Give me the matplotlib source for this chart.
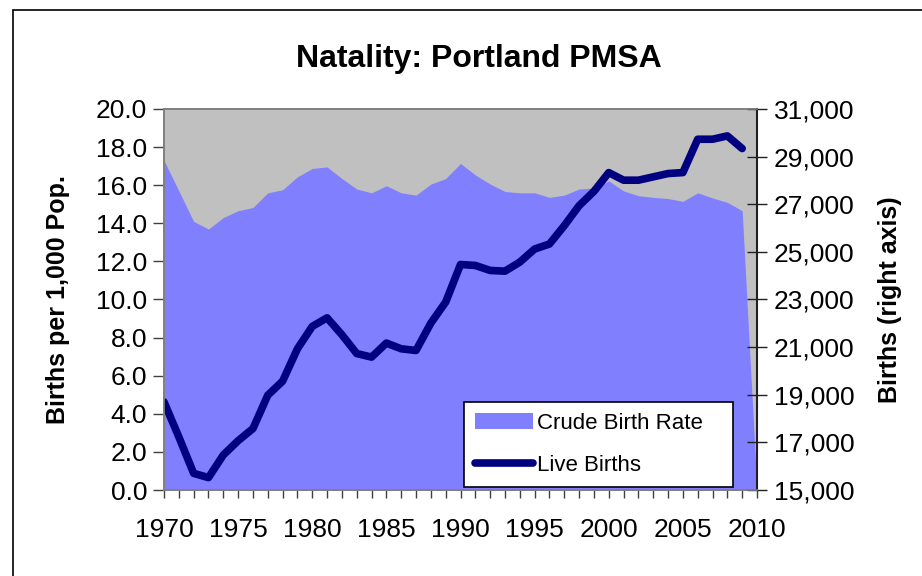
import matplotlib
matplotlib.use("Agg")
import matplotlib.pyplot as plt
from matplotlib.patches import Rectangle
from matplotlib.ticker import FuncFormatter

plt.rcParams['font.family'] = ['Liberation Sans', 'DejaVu Sans']

years = list(range(1970, 2011))
crude_birth_rate = [17.3, 15.7, 14.1, 13.7, 14.3, 14.66, 14.83, 15.6, 15.76, 16.44,
                    16.88, 16.96, 16.35, 15.8, 15.6, 15.97, 15.6, 15.48, 16.06, 16.35,
                    17.14, 16.54, 16.06, 15.67, 15.6, 15.6, 15.36, 15.48, 15.8, 15.85,
                    16.23, 15.7, 15.45, 15.36, 15.3, 15.15, 15.6, 15.33, 15.1, 14.66,
                    0.0]
birth_years = list(range(1970, 2010))
live_births = [18700, 17230, 15700, 15520, 16470, 17070, 17580, 18980, 19570, 20930,
               21870, 22230, 21520, 20730, 20580, 21170, 20930, 20860, 22010, 22890,
               24470, 24430, 24220, 24190, 24570, 25120, 25330, 26100, 26940, 27540,
               28330, 28010, 28010, 28150, 28290, 28330, 29730, 29730, 29870, 29340]

title = "Natality: Portland PMSA"
left_label = "Births per 1,000 Pop."
right_label = "Births (right axis)"
left_ticks = [0, 2, 4, 6, 8, 10, 12, 14, 16, 18, 20]
right_ticks = [15000, 17000, 19000, 21000, 23000, 25000, 27000, 29000, 31000]
x_label_years = [1970, 1975, 1980, 1985, 1990, 1995, 2000, 2005, 2010]

W, H = 922, 576
fig = plt.figure(figsize=(W / 100, H / 100), dpi=100)
fig.patch.set_facecolor('white')

# outer chart border
fig.patches.append(Rectangle((13 / W, -0.05), 1.2, 1 - 10 / H + 0.05,
                             transform=fig.transFigure, fill=False,
                             edgecolor='black', linewidth=1.2))

ax = fig.add_axes([164 / W, 1 - 490 / H, (757 - 164) / W, (490 - 109) / H])
ax.set_facecolor('#C0C0C0')
ax.fill_between(years, crude_birth_rate, 0, color='#8080FF', linewidth=0,
                label='Crude Birth Rate')
ax.set_xlim(1970, 2010)
ax.set_ylim(0, 20)
ax.set_yticks(left_ticks)
ax.set_yticklabels([f"{v:.1f}" for v in left_ticks])
ax.set_xticks(years)
ax.set_xticklabels([str(y) if y in x_label_years else '' for y in years])
ax.tick_params(axis='y', direction='out', length=8, width=1, labelsize=19, pad=4,
               color='#404040')
ax.tick_params(axis='x', direction='out', length=6, width=1, labelsize=19, pad=14,
               color='#404040')
for s in ax.spines.values():
    s.set_color('#808080')
    s.set_linewidth(1.2)
ax.set_ylabel(left_label, fontsize=18, fontweight='bold', labelpad=19)

ax2 = ax.twinx()
ax2.patch.set_visible(False)
ax2.plot(birth_years, live_births, color='#000080', linewidth=5.5,
         solid_capstyle='round', solid_joinstyle='round', label='Live Births')
ax2.set_ylim(15000, 31000)
ax2.set_yticks(right_ticks)
ax2.yaxis.set_major_formatter(FuncFormatter(lambda v, p: f"{int(v):,}"))
ax2.tick_params(axis='y', direction='inout', length=14, width=1, labelsize=19, pad=5,
                color='#202020')
for name, s in ax2.spines.items():
    s.set_color('#808080')
    s.set_linewidth(1.2)
ax2.spines['right'].set_color('#202020')
ax2.spines['right'].set_linewidth(1.5)
ax2.set_ylabel(right_label, fontsize=18, fontweight='bold', labelpad=17)

h1, l1 = ax.get_legend_handles_labels()
h2, l2 = ax2.get_legend_handles_labels()
leg = ax2.legend(h1 + h2, l1 + l2, loc='lower left',
                 bbox_to_anchor=((464 - 164) / (757 - 164), (490 - 487) / (490 - 109),
                                 (733 - 464) / (757 - 164), (487 - 402) / (490 - 109)),
                 mode='expand', fontsize=16, frameon=True, fancybox=False,
                 edgecolor='black', framealpha=1, handlelength=2.6,
                 handletextpad=0.2, borderpad=0.5, labelspacing=0.95,
                 borderaxespad=0)
leg.get_frame().set_linewidth(1.2)

fig.text(479 / W, 1 - 59 / H, title, fontsize=23, fontweight='bold',
         ha='center', va='center')

fig.savefig('out.png', dpi=100)
